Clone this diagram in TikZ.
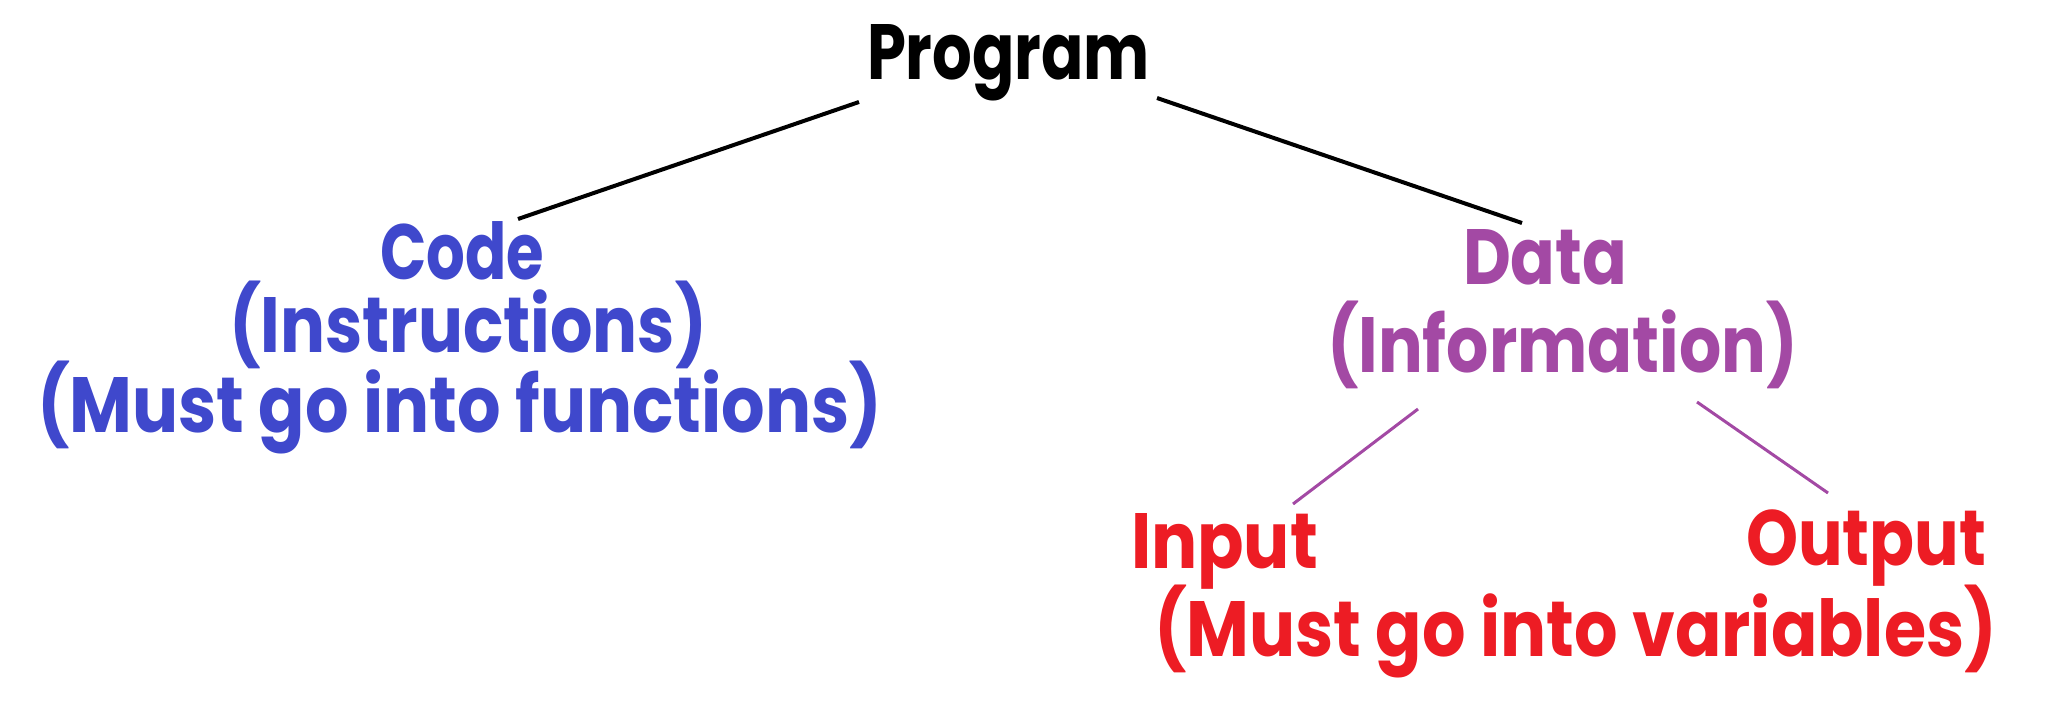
\documentclass[tikz,border=0pt]{standalone}
\usepackage{fontspec}
\setmainfont{Poppins}
\usepackage{graphicx}
\definecolor{cblue}{RGB}{63,72,204}
\definecolor{cpurple}{RGB}{163,73,164}
\definecolor{cred}{RGB}{237,28,36}
\newlength\fitnatw
\newlength\fitcapht
\newcommand\fitbox[2]{%
  \settowidth\fitnatw{#2}\settoheight\fitcapht{H}%
  \pgfmathsetmacro\fitsx{#1/\fitnatw}%
  \pgfmathsetmacro\fitsy{27.5/\fitcapht}%
  \scalebox{\fitsx}[\fitsy]{#2}}
\tikzset{
  lbl/.style={inner sep=0pt, anchor=base, font=\fontsize{36}{40}\selectfont\bfseries},
  blackline/.style={draw=black, line width=2pt},
  purpleline/.style={draw=cpurple, line width=1.5pt},
}
\begin{document}
\begin{tikzpicture}[x=0.5pt,y=-0.5pt]
\path[use as bounding box] (0,0) rectangle (2060,722);
\node[lbl, text=black] (prog) at (1008.5,80) {\fitbox{141.5}{Program}};
\node[lbl, text=cblue] (code) at (462,279) {\fitbox{82}{Code}};
\node[lbl, text=cblue] (instr) at (468,352) {\fitbox{239}{(Instructions)}};
\node[lbl, text=cblue] (funcs) at (459.5,432) {\fitbox{422.5}{(Must go into functions)}};
\node[lbl, text=cpurple] (data) at (1545,284) {\fitbox{82}{Data}};
\node[lbl, text=cpurple] (info) at (1562.5,372) {\fitbox{235.5}{(Information)}};
\node[lbl, text=cred] (input) at (1224.5,568) {\fitbox{93.5}{Input}};
\node[lbl, text=cred] (output) at (1866,565) {\fitbox{120}{Output}};
\node[lbl, text=cred] (vars) at (1575.5,656) {\fitbox{421.5}{(Must go into variables)}};
\coordinate (progL) at (859,102);
\coordinate (codeT) at (518,219);
\coordinate (progR) at (1157,98);
\coordinate (dataT) at (1522,223);
\coordinate (infoL) at (1418,409);
\coordinate (inputT) at (1293,504);
\coordinate (infoR) at (1697,402);
\coordinate (outputT) at (1828,493);
\draw[blackline] (progL) -- (codeT);
\draw[blackline] (progR) -- (dataT);
\draw[purpleline] (infoL) -- (inputT);
\draw[purpleline] (infoR) -- (outputT);
\end{tikzpicture}
\end{document}
